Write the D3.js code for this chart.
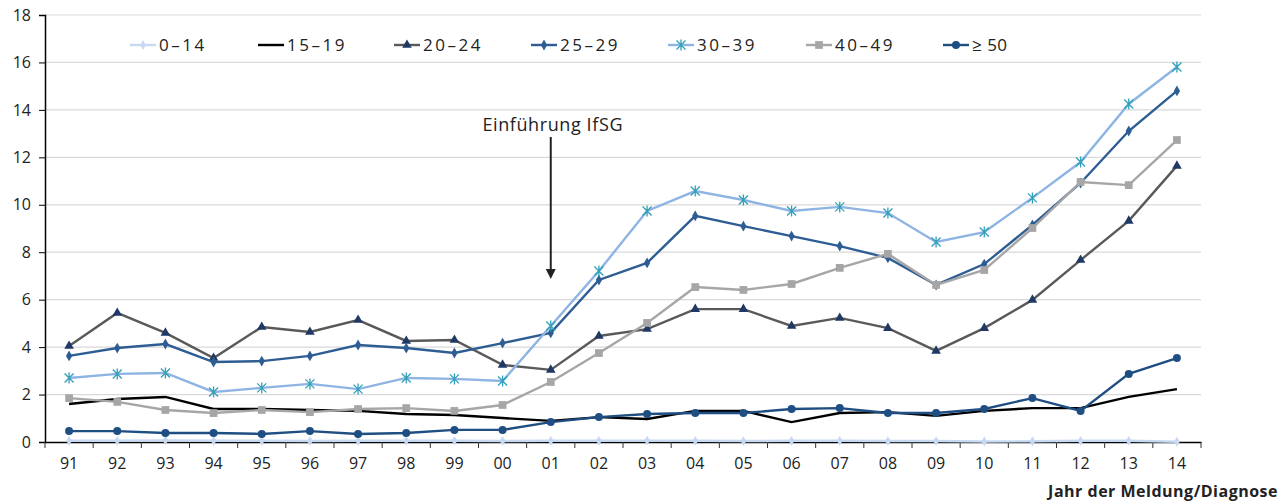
<!DOCTYPE html>
<html><head><meta charset="utf-8">
<script src="https://cdn.jsdelivr.net/npm/d3@7"></script>
<style>body{margin:0;background:#fff}svg{display:block}text{font-family:"Open Sans",sans-serif}</style>
</head><body><svg id="c" width="1285" height="501"></svg>
<script>
const years = ["91","92","93","94","95","96","97","98","99","00","01","02","03","04","05","06","07","08","09","10","11","12","13","14"];
const yTicks = [0,2,4,6,8,10,12,14,16,18];
const s0_14  = [0.05,0.05,0.07,0.05,0.05,0.04,0.05,0.05,0.05,0.04,0.05,0.05,0.06,0.05,0.04,0.05,0.05,0.04,0.04,0.02,0.03,0.05,0.05,0.01];
const s15_19 = [1.60,1.81,1.90,1.39,1.39,1.35,1.31,1.18,1.14,1.01,0.89,1.05,0.97,1.31,1.31,0.84,1.22,1.26,1.10,1.31,1.43,1.43,1.90,2.23];
const s20_24 = [4.05,5.44,4.60,3.54,4.85,4.64,5.14,4.26,4.30,3.25,3.04,4.47,4.76,5.60,5.60,4.89,5.23,4.80,3.84,4.80,5.99,7.67,9.32,11.64];
const s25_29 = [3.63,3.96,4.13,3.37,3.41,3.63,4.09,3.96,3.75,4.17,4.60,6.83,7.55,9.53,9.10,8.68,8.26,7.76,6.62,7.50,9.15,10.92,13.11,14.80];
const s30_39 = [2.70,2.87,2.91,2.11,2.28,2.45,2.23,2.70,2.66,2.57,4.89,7.21,9.74,10.58,10.20,9.74,9.91,9.65,8.43,8.85,10.29,11.80,14.25,15.81];
const s40_49 = [1.85,1.69,1.35,1.22,1.35,1.26,1.39,1.43,1.31,1.56,2.53,3.75,5.02,6.53,6.41,6.66,7.34,7.93,6.62,7.25,9.02,10.96,10.83,12.73];
const s50    = [0.46,0.46,0.38,0.38,0.34,0.46,0.34,0.38,0.51,0.51,0.84,1.05,1.18,1.22,1.22,1.39,1.43,1.22,1.22,1.39,1.85,1.31,2.87,3.54];
const seriesNames = ["0\u201314","15\u201319","20\u201324","25\u201329","30\u201339","40\u201349","\u2265 50"];

const series = [
  {name:seriesNames[0], v:s0_14,  line:"#c6d9f1", mk:"diamond", mc:"#c6d9f1", ms:28},
  {name:seriesNames[1], v:s15_19, line:"#000000", mk:null},
  {name:seriesNames[2], v:s20_24, line:"#595959", mk:"triangle", mc:"#1f3864", ms:40},
  {name:seriesNames[3], v:s25_29, line:"#2e5d94", mk:"diamond", mc:"#2e5d94", ms:34},
  {name:seriesNames[4], v:s30_39, line:"#8db4e2", mk:"star", mc:"#31a0b8", ms:60},
  {name:seriesNames[5], v:s40_49, line:"#a6a6a6", mk:"square", mc:"#a6a6a6", ms:60},
  {name:seriesNames[6], v:s50,    line:"#1f4e82", mk:"circle", mc:"#1f4e82", ms:50}
];

const svg = d3.select("#c");
const L=45, R=1201, T=15, B=442;
const x = d3.scaleBand().domain(years).range([L,R]).padding(0);
const y = d3.scaleLinear().domain([0,18]).range([B,T]);
const cx = d => x(d)+x.bandwidth()/2;

svg.append("g").selectAll("line").data(yTicks.filter(t=>t>0)).join("line")
  .attr("x1",L).attr("x2",R).attr("y1",d=>y(d)).attr("y2",d=>y(d))
  .attr("stroke","#d9d9d9").attr("stroke-width",1.2);

const ya = svg.append("g").attr("transform",`translate(${L},0)`)
  .call(d3.axisLeft(y).tickValues(yTicks).tickSize(6).tickPadding(8).tickFormat(d3.format("d")));
ya.select(".domain").attr("stroke","#000").attr("stroke-width",1.5);
ya.selectAll(".tick line").attr("stroke","#000");
ya.selectAll("text").attr("font-size",16).attr("fill","#222");

const xa = svg.append("g").attr("transform",`translate(0,${B})`)
  .call(d3.axisBottom(x).tickSize(0).tickPadding(16));
xa.select(".domain").attr("stroke","#000").attr("stroke-width",1.5);
xa.selectAll("text").attr("font-size",16).attr("fill","#222");
svg.append("g").selectAll("line").data(years.concat(["end"])).join("line")
  .attr("x1",(d,i)=>L+i*x.bandwidth()).attr("x2",(d,i)=>L+i*x.bandwidth())
  .attr("y1",B).attr("y2",B+6).attr("stroke","#333").attr("stroke-width",1);

const symMap = {diamond:d3.symbolDiamond, triangle:d3.symbolTriangle, square:d3.symbolSquare, circle:d3.symbolCircle};
function drawMarker(g, s, px, py){
  if(!s.mk) return;
  if(s.mk==="star"){
    const r=4.5;
    const p = `M${px-r},${py-r}L${px+r},${py+r}M${px-r},${py+r}L${px+r},${py-r}M${px},${py-r-1}L${px},${py+r+1}`;
    g.append("path").attr("d",p).attr("stroke",s.mc).attr("stroke-width",1.3).attr("fill","none");
  } else {
    g.append("path").attr("d",d3.symbol().type(symMap[s.mk]).size(s.ms)())
      .attr("transform",`translate(${px},${py})`).attr("fill",s.mc);
  }
}

const line = d3.line().x((d,i)=>cx(years[i])).y(d=>y(d));
series.forEach(s=>{
  const g = svg.append("g");
  g.append("path").datum(s.v).attr("d",line).attr("fill","none")
    .attr("stroke",s.line).attr("stroke-width",2.4);
  s.v.forEach((v,i)=>drawMarker(g,s,cx(years[i]),y(v)));
});

const legX = [130,258,394,531,668,806,943];
series.forEach((s,i)=>{
  const g = svg.append("g");
  const lx = legX[i], ly=45;
  g.append("line").attr("x1",lx).attr("x2",lx+26).attr("y1",ly).attr("y2",ly)
    .attr("stroke",s.line).attr("stroke-width",2.4);
  drawMarker(g,s,lx+13,ly);
  g.append("text").attr("x",lx+29).attr("y",ly+6).attr("font-size",17)
    .attr("letter-spacing",i===6?0.5:2.5).attr("fill","#222").text(s.name);
});

const ax = cx("01");
svg.append("text").attr("x",ax+2).attr("y",131).attr("text-anchor","middle")
  .attr("font-size",18).attr("letter-spacing",0.6).attr("fill","#222").text("Einführung IfSG");
svg.append("line").attr("x1",ax).attr("x2",ax).attr("y1",137).attr("y2",270)
  .attr("stroke","#222").attr("stroke-width",2);
svg.append("path").attr("d",`M${ax-5},${269}L${ax+5},${269}L${ax},${279}Z`).attr("fill","#222");

svg.append("text").attr("x",1278).attr("y",497).attr("text-anchor","end")
  .attr("font-size",16).attr("letter-spacing",0.5).attr("font-weight","bold").attr("fill","#222").text("Jahr der Meldung/Diagnose");
</script></body></html>
